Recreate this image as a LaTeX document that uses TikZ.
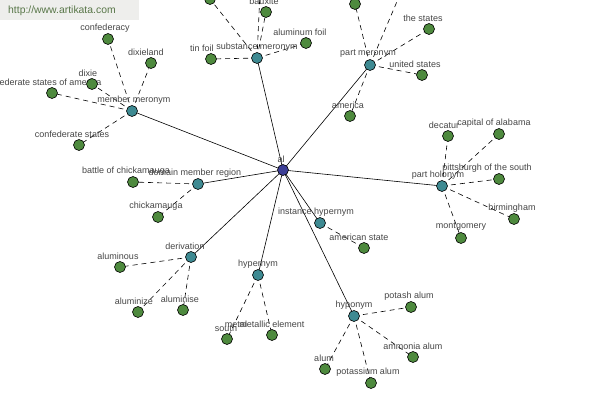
\documentclass[tikz,border=0pt]{standalone}
\usepackage{fontspec}
\setmainfont{Liberation Sans}
\begin{document}
\begin{tikzpicture}[x=1pt,y=-1pt,
  leaf/.style={circle,draw=black,line width=0.6pt,fill=leafgreen,inner sep=0pt,minimum size=11pt},
  rel/.style={circle,draw=black,line width=0.6pt,fill=relteal,inner sep=0pt,minimum size=11pt},
  hub/.style={circle,draw=black,line width=0.6pt,fill=hubblue,inner sep=0pt,minimum size=11pt},
  lbl/.style={inner sep=0pt,text=labelgray,font=\fontsize{9}{10}\selectfont},
  solidedge/.style={draw=black,line width=0.6pt},
  dashedge/.style={draw=black,line width=0.6pt,dash pattern=on 5pt off 4pt}]
\definecolor{leafgreen}{RGB}{78,138,62}
\definecolor{relteal}{RGB}{62,138,146}
\definecolor{hubblue}{RGB}{60,62,150}
\definecolor{labelgray}{RGB}{70,70,70}
\definecolor{wmgray}{RGB}{238,238,236}
\definecolor{wmgreen}{RGB}{88,118,72}
\clip (0,0) rectangle (600,400);
\fill[white] (0,0) rectangle (600,400);

% coordinates
\coordinate (al) at (283,170);
\coordinate (mm) at (132,111);
\coordinate (sm) at (257,58);
\coordinate (pm) at (370,65);
\coordinate (ph) at (442,186);
\coordinate (ih) at (320,223);
\coordinate (hypo) at (354,316);
\coordinate (hyper) at (258,275);
\coordinate (der) at (191,257);
\coordinate (dmr) at (198,184);

\coordinate (conf) at (108,39);
\coordinate (dixl) at (151,63);
\coordinate (dixie) at (92,84);
\coordinate (csa) at (52,93);
\coordinate (cs) at (79,145);
\coordinate (tinf) at (211,59);
\coordinate (baux) at (266,12);
\coordinate (alf) at (306,43);
\coordinate (smtop) at (210,-1);
\coordinate (smoff) at (261,-30);
\coordinate (pmtop) at (355,4);
\coordinate (pmoff) at (404,-15);
\coordinate (thes) at (429,29);
\coordinate (us) at (422,75);
\coordinate (amer) at (350,116);
\coordinate (dec) at (448,136);
\coordinate (cap) at (499,134);
\coordinate (pitt) at (499,179);
\coordinate (birm) at (514,219);
\coordinate (mont) at (461,238);
\coordinate (ams) at (364,248);
\coordinate (pota) at (411,307);
\coordinate (ammo) at (413,357);
\coordinate (potas) at (371,383);
\coordinate (alum) at (325,369);
\coordinate (south) at (227,339);
\coordinate (metel) at (272,335);
\coordinate (alous) at (120,267);
\coordinate (alize) at (138,312);
\coordinate (alise) at (183,310);
\coordinate (batt) at (133,182);
\coordinate (chick) at (158,217);

% watermark
\node[fill=wmgray,minimum width=139pt,minimum height=20pt,inner sep=0pt,anchor=north west] (wm) at (0,0) {};
\node[inner sep=0pt,text=wmgreen,font=\fontsize{10.4}{12}\selectfont,anchor=west] (wmt) at (8,11) {http://www.artikata.com};

% edges
\foreach \r in {mm,sm,pm,ph,ih,hypo,hyper,der,dmr} \path[solidedge] (al) -- (\r);
\foreach \a/\b in {mm/conf,mm/dixl,mm/dixie,mm/csa,mm/cs,
  sm/tinf,sm/baux,sm/alf,sm/smtop,sm/smoff,
  pm/pmtop,pm/pmoff,pm/thes,pm/us,pm/amer,
  ph/dec,ph/cap,ph/pitt,ph/birm,ph/mont,
  ih/ams,hypo/pota,hypo/ammo,hypo/potas,hypo/alum,
  hyper/south,hyper/metel,der/alous,der/alize,der/alise,
  dmr/batt,dmr/chick}
  \path[dashedge] (\a) -- (\b);

% leaf circles
\foreach \n in {conf,dixl,csa,cs,tinf,baux,alf,smtop,pmtop,thes,us,amer,dec,cap,pitt,birm,mont,ams,pota,ammo,potas,alum,south,metel,alous,alize,alise,batt,chick}
  \node[leaf] (\n-c) at (\n) {};

% labels
\node[lbl] (conf-l) at (105,28) {confederacy};
\node[lbl] (dixl-l) at (146,52) {dixieland};
\node[lbl] (csa-l) at (42,82) {confederate states of america};
\node[leaf] (dixie-c) at (dixie) {};
\node[lbl] (dixie-l) at (88,73) {dixie};
\node[lbl] (cs-l) at (72,134) {confederate states};
\node[lbl] (tinf-l) at (202,48) {tin foil};
\node[lbl] (baux-l) at (264,1) {bauxite};
\node[lbl] (alf-l) at (300,32) {aluminum foil};
\node[lbl] (thes-l) at (423,18) {the states};
\node[lbl] (us-l) at (415,64) {united states};
\node[lbl] (amer-l) at (348,105) {america};
\node[lbl] (dec-l) at (444,125) {decatur};
\node[lbl] (cap-l) at (494,123) {capital of alabama};
\node[lbl] (pitt-l) at (487,168) {pittsburgh of the south};
\node[lbl] (birm-l) at (512,208) {birmingham};
\node[lbl] (mont-l) at (461,227) {montgomery};
\node[lbl] (ams-l) at (359,237) {american state};
\node[lbl] (pota-l) at (409,296) {potash alum};
\node[lbl] (ammo-l) at (413,346) {ammonia alum};
\node[lbl] (potas-l) at (368,372) {potassium alum};
\node[lbl] (alum-l) at (324,358) {alum};
\node[lbl] (south-l) at (226,328) {south};
\node[lbl] (metal-l) at (236,324) {metal};
\node[lbl] (metel-l) at (272,324) {metallic element};
\node[lbl] (alous-l) at (118,256) {aluminous};
\node[lbl] (alize-l) at (134,301) {aluminize};
\node[lbl] (alise-l) at (180,299) {aluminise};
\node[lbl] (batt-l) at (126,171) {battle of chickamauga};
\node[lbl] (chick-l) at (156,206) {chickamauga};

% relation nodes
\foreach \n in {mm,sm,pm,ph,ih,hypo,hyper,der,dmr} \node[rel] (\n-c) at (\n) {};
\node[lbl] (mm-l) at (134,100) {member meronym};
\node[lbl] (sm-l) at (257,47) {substance meronym};
\node[lbl] (pm-l) at (368,54) {part meronym};
\node[lbl] (ph-l) at (438,175) {part holonym};
\node[lbl] (ih-l) at (316,212) {instance hypernym};
\node[lbl] (hypo-l) at (354,305) {hyponym};
\node[lbl] (hyper-l) at (258,264) {hypernym};
\node[lbl] (der-l) at (185,246) {derivation};
\node[lbl] (dmr-l) at (195,173) {domain member region};

% hub
\node[hub] (al-c) at (al) {};
\node[lbl] (al-l) at (281,159) {al};
\end{tikzpicture}
\end{document}
